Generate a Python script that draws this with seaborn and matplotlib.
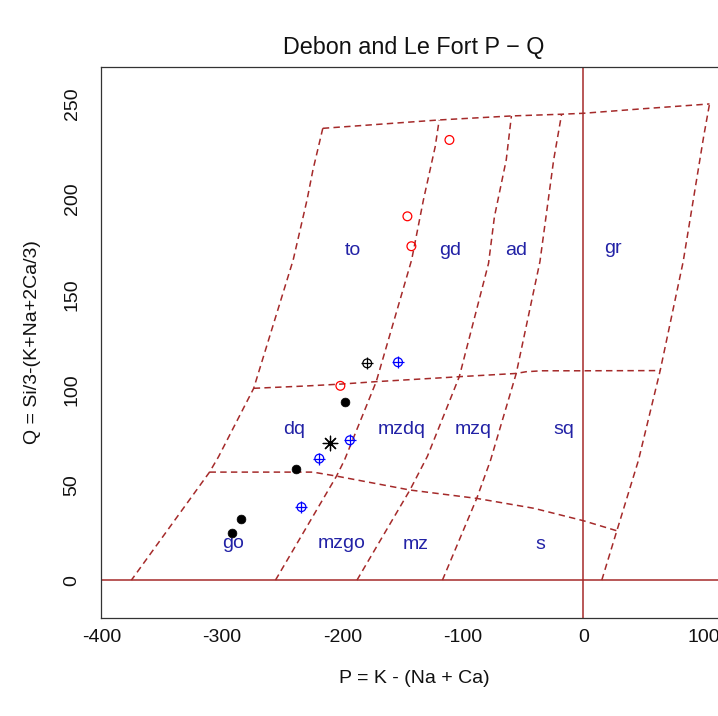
import matplotlib
matplotlib.use("Agg")
import matplotlib.pyplot as plt
import seaborn as sns
import pandas as pd

# ---- field boundaries of the Debon & Le Fort P-Q diagram (P, Q) ----
left_P = [-216.4, -224.6, -229.5, -241.0, -273.8, -303.0, -310.5, -375.4]
left_Q = [237.2, 215.3, 199.6, 168.1, 100.7, 64.8, 56.7, 0.0]

top_P = [-216.4, -119.7, -59.7, -18.0, 0.0, 50.0, 104.9]
top_Q = [237.2, 241.6, 243.7, 244.6, 245.1, 247.5, 250.0]

right_P = [15.4, 27.9, 45.9, 63.9, 83.0, 100.0, 104.9]
right_Q = [0.0, 25.9, 63.0, 110.0, 167.2, 232.8, 250.0]

upper_P = [-273.8, -231.0, -201.6, -172.0, -113.0, -103.0, -55.7, -47.5, -34.4, 0.0, 63.9]
upper_Q = [100.7, 101.9, 102.9, 104.2, 106.4, 106.8, 108.5, 109.4, 109.9, 109.9, 110.0]

lower_P = [-310.5, -224.6, -205.0, -144.0, -88.5, -41.0, 0.0, 27.9]
lower_Q = [56.7, 56.7, 54.6, 47.3, 42.9, 37.7, 31.2, 25.9]

div1_P = [-255.7, -205.0, -198.4, -172.0, -142.6, -132.8, -123.0, -119.7]
div1_Q = [0.0, 54.6, 63.0, 104.2, 168.1, 199.6, 227.6, 241.6]

div2_P = [-188.0, -144.0, -129.5, -103.0, -78.7, -73.8, -64.0, -59.7]
div2_Q = [0.0, 47.3, 65.0, 106.8, 166.3, 190.8, 220.6, 243.7]

div3_P = [-117.0, -88.5, -77.0, -55.7, -36.0, -24.6, -18.0]
div3_Q = [0.0, 42.9, 63.0, 108.5, 167.2, 220.6, 244.6]

# ---- field names ----
field_names = ["to", "gd", "ad", "gr",
               "dq", "mzdq", "mzq", "sq",
               "go", "mzgo", "mz", "s"]
field_P = [-191, -110.5, -56, 24.5,
           -240, -150.5, -91.3, -16.5,
           -291, -201, -139.5, -35.5]
field_Q = [174, 174, 174, 175,
           80, 80, 80, 80,
           20.5, 20.5, 19.5, 19.5]

# ---- samples ----
red_P = [-111.2, -146.1, -142.8, -201.8]
red_Q = [231.1, 191.0, 175.3, 102.0]

black_P = [-197.6, -239.0, -284.6, -291.6]
black_Q = [93.6, 58.2, 32.3, 24.7]

blue_P = [-153.9, -193.9, -219.3, -234.1]
blue_Q = [114.4, 73.4, 63.8, 38.3]

cross_P = [-179.5]
cross_Q = [113.8]

star_P = [-210.4]
star_Q = [71.8]

x_ticks = [-400, -300, -200, -100, 0, 100]
x_tick_labels = ["-400", "-300", "-200", "-100", "0", "100"]
y_ticks = [0, 50, 100, 150, 200, 250]
y_tick_labels = ["0", "50", "100", "150", "200", "250"]

sns.set_style("white")
plt.rcParams["font.family"] = ["Liberation Sans", "DejaVu Sans"]
plt.rcParams["axes.unicode_minus"] = False

W, H = 718, 716
fig = plt.figure(figsize=(W / 100, H / 100), dpi=100)
ax_left, ax_right, ax_top, ax_bottom = 101.2, 726.5, 67.0, 618.0
ax = fig.add_axes([ax_left / W, (H - ax_bottom) / H,
                   (ax_right - ax_left) / W, (ax_bottom - ax_top) / H])

line_col = "#A52A2A"
dash = (0, (4.2, 2.8))
for P, Q in [(left_P, left_Q), (top_P, top_Q), (right_P, right_Q),
             (upper_P, upper_Q), (lower_P, lower_Q),
             (div1_P, div1_Q), (div2_P, div2_Q), (div3_P, div3_Q)]:
    sns.lineplot(data=pd.DataFrame({"P": P, "Q": Q}), x="P", y="Q",
                 sort=False, estimator=None, color=line_col,
                 linewidth=1.1, linestyle=dash, ax=ax, zorder=2)

ax.axhline(0, color=line_col, linewidth=1.1, zorder=1)
ax.axvline(0, color=line_col, linewidth=1.1, zorder=1)

label_col = "#2222A6"
for name, px, qy in zip(field_names, field_P, field_Q):
    ax.text(px, qy, name, color=label_col, fontsize=14,
            ha="center", va="center_baseline", zorder=3)

# samples
sns.scatterplot(x=red_P, y=red_Q, marker="o", s=40, color="red",
                facecolor="none", edgecolor="red", linewidth=0.9,
                ax=ax, zorder=4)
sns.scatterplot(x=black_P, y=black_Q, marker="o", s=40, color="black",
                edgecolor="black", linewidth=0.5, ax=ax, zorder=4)
for P, Q, col in [(blue_P, blue_Q, "blue"), (cross_P, cross_Q, "black")]:
    sns.scatterplot(x=P, y=Q, marker="o", s=40, color=col,
                    facecolor="none", edgecolor=col, linewidth=0.9,
                    ax=ax, zorder=4)
    sns.scatterplot(x=P, y=Q, marker="+", s=80, color=col,
                    linewidth=0.9, ax=ax, zorder=4)
sns.scatterplot(x=star_P, y=star_Q, marker=(8, 2, 0), s=110, color="black",
                linewidth=0.9, ax=ax, zorder=4)

ax.set_xlim(-400.5, 119.0)
ax.set_ylim(-19.9, 269.4)
ax.set_xticks(x_ticks)
ax.set_xticklabels(x_tick_labels)
ax.set_yticks(y_ticks)
ax.set_yticklabels(y_tick_labels, rotation=90, va="center")
ax.tick_params(axis="both", direction="out", length=5.0, width=0.8,
               color="#222222", labelsize=14, labelcolor="#111111")
ax.tick_params(axis="x", pad=3.2)
ax.tick_params(axis="y", pad=9.9)
for sp in ax.spines.values():
    sp.set_color("#333333")
    sp.set_linewidth(0.9)
ax.set_xlabel("")
ax.set_ylabel("")

fig.text(414 / W, 1 - 683 / H, "P = K - (Na + Ca)", fontsize=14,
         ha="center", va="baseline", color="#111111")
fig.text(37 / W, 1 - 342.5 / H, "Q = Si/3-(K+Na+2Ca/3)", fontsize=14,
         ha="center", va="baseline", rotation=90, rotation_mode="anchor",
         color="#111111")
fig.text(414 / W, 1 - 54 / H, "Debon and Le Fort P \u2212 Q", fontsize=16.8,
         ha="center", va="baseline", color="#111111")

fig.savefig("out.png", dpi=100, facecolor="white")
